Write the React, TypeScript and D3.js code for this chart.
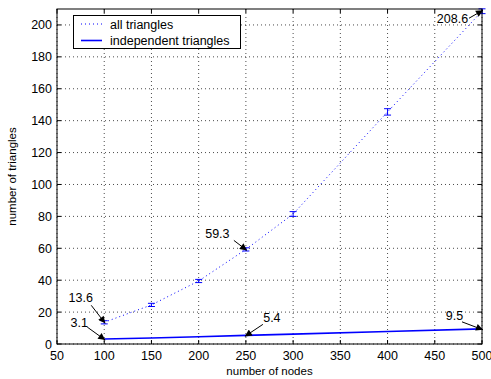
import React from "react";
import * as d3 from "d3";

// values
const nodes = [100, 150, 200, 250, 300, 400, 500];
const allTriangles = [13.6, 24.5, 39.5, 59.3, 81.5, 145.5, 208.6];
const allErr = [1.0, 1.0, 1.0, 1.0, 1.5, 2.0, 1.5];
const indepTriangles = [3.1, 3.8, 4.5, 5.4, 6.2, 7.8, 9.5];
const xTicks = [50, 100, 150, 200, 250, 300, 350, 400, 450, 500];
const yTicks = [0, 20, 40, 60, 80, 100, 120, 140, 160, 180, 200];

// annotations: point, series, label offset and arrow start offset (px from point)
const notes = [
  { n: 100, series: "all", dx: -23.5, dy: -20, sx: -13, sy: -17 },
  { n: 100, series: "ind", dx: -25, dy: -12, sx: -17, sy: -12 },
  { n: 250, series: "all", dx: -28.5, dy: -11, sx: -12, sy: -9 },
  { n: 250, series: "ind", dx: 26, dy: -13, sx: 17, sy: -11 },
  { n: 500, series: "ind", dx: -27.5, dy: -9, sx: -20, sy: -7 },
  { n: 500, series: "all", dx: -29.5, dy: 12, sx: -13, sy: 7 },
];

const W = 491;
const H = 379;
const font = "Liberation Sans, Arial, Helvetica, sans-serif";

export default function App() {
  const x = d3.scaleLinear().domain([50, 500]).range([57, 482]);
  const y = d3.scaleLinear().domain([0, 210]).range([344, 9]);
  const left = 57, right = 482, top = 9, bottom = 344;

  const line = d3
    .line<number>()
    .x((_, i) => x(nodes[i]))
    .y((d) => y(d));

  return (
    <svg
      width={W}
      height={H}
      style={{ position: "absolute", left: 0, top: 0, fontFamily: font }}
    >
      <defs>
        <marker id="ah" viewBox="0 0 10 10" refX="10" refY="5" markerWidth="9" markerHeight="7" markerUnits="userSpaceOnUse" orient="auto">
          <path d="M0,0 L10,5 L0,10 z" fill="#000" />
        </marker>
      </defs>
      <rect x={0} y={0} width={W} height={H} fill="#fff" />

      {/* grid */}
      {xTicks.map((t) => (
        <line key={"gx" + t} x1={x(t)} x2={x(t)} y1={top} y2={bottom} stroke="#000" strokeWidth={1} strokeDasharray="1,3" opacity={0.7} />
      ))}
      {yTicks.map((t) => (
        <line key={"gy" + t} x1={left} x2={right} y1={y(t)} y2={y(t)} stroke="#000" strokeWidth={1} strokeDasharray="1,3" opacity={0.7} />
      ))}

      {/* ticks on all sides */}
      {xTicks.map((t) => (
        <g key={"tx" + t}>
          <line x1={x(t)} x2={x(t)} y1={bottom} y2={bottom - 4} stroke="#000" />
          <line x1={x(t)} x2={x(t)} y1={top} y2={top + 4} stroke="#000" />
          <text x={x(t)} y={360} fontSize={12.5} textAnchor="middle">{t}</text>
        </g>
      ))}
      {yTicks.map((t) => (
        <g key={"ty" + t}>
          <line x1={left} x2={left + 4} y1={y(t)} y2={y(t)} stroke="#000" />
          <line x1={right} x2={right - 4} y1={y(t)} y2={y(t)} stroke="#000" />
          <text x={52} y={y(t) + 4.5} fontSize={12.5} textAnchor="end">{t}</text>
        </g>
      ))}

      {/* series */}
      <path d={line(allTriangles) || ""} fill="none" stroke="#0000ff" strokeWidth={1} strokeDasharray="1,3" />
      {allTriangles.map((v, i) => {
        const cx = x(nodes[i]);
        const y1 = y(v - allErr[i]);
        const y2 = y(v + allErr[i]);
        return (
          <g key={"eb" + i} stroke="#0000ff" strokeWidth={1}>
            <line x1={cx} x2={cx} y1={y1} y2={y2} />
            <line x1={cx - 3.5} x2={cx + 3.5} y1={y1} y2={y1} />
            <line x1={cx - 3.5} x2={cx + 3.5} y1={y2} y2={y2} />
          </g>
        );
      })}
      <path d={line(indepTriangles) || ""} fill="none" stroke="#0000ff" strokeWidth={1.6} />

      {/* annotations */}
      {notes.map((a, i) => {
        const idx = nodes.indexOf(a.n);
        const v = a.series === "all" ? allTriangles[idx] : indepTriangles[idx];
        const px = x(a.n);
        const py = y(v);
        return (
          <g key={"an" + i}>
            <line x1={px + a.sx} y1={py + a.sy} x2={px - Math.sign(a.sx)} y2={py - Math.sign(a.sy)} stroke="#000" strokeWidth={1} markerEnd="url(#ah)" />
            <text x={px + a.dx} y={py + a.dy} fontSize={12.5} textAnchor="middle">{v.toFixed(1)}</text>
          </g>
        );
      })}

      {/* frame */}
      <rect x={left} y={top} width={right - left} height={bottom - top} fill="none" stroke="#000" strokeWidth={1} />

      {/* legend */}
      <rect x={73.5} y={15.5} width={167} height={33} fill="#fff" stroke="#000" strokeWidth={1} />
      <line x1={81} x2={102} y1={24} y2={24} stroke="#0000ff" strokeDasharray="1,3" />
      <text x={110} y={28.5} fontSize={12.5}>all triangles</text>
      <line x1={81} x2={102} y1={40.5} y2={40.5} stroke="#0000ff" strokeWidth={1.6} />
      <text x={110} y={45} fontSize={12.5}>independent triangles</text>

      {/* axis labels */}
      <text x={269.5} y={375} fontSize={11.5} textAnchor="middle">number of nodes</text>
      <text transform={`translate(16,${(top + bottom) / 2}) rotate(-90)`} fontSize={11.5} textAnchor="middle">number of triangles</text>
    </svg>
  );
}
